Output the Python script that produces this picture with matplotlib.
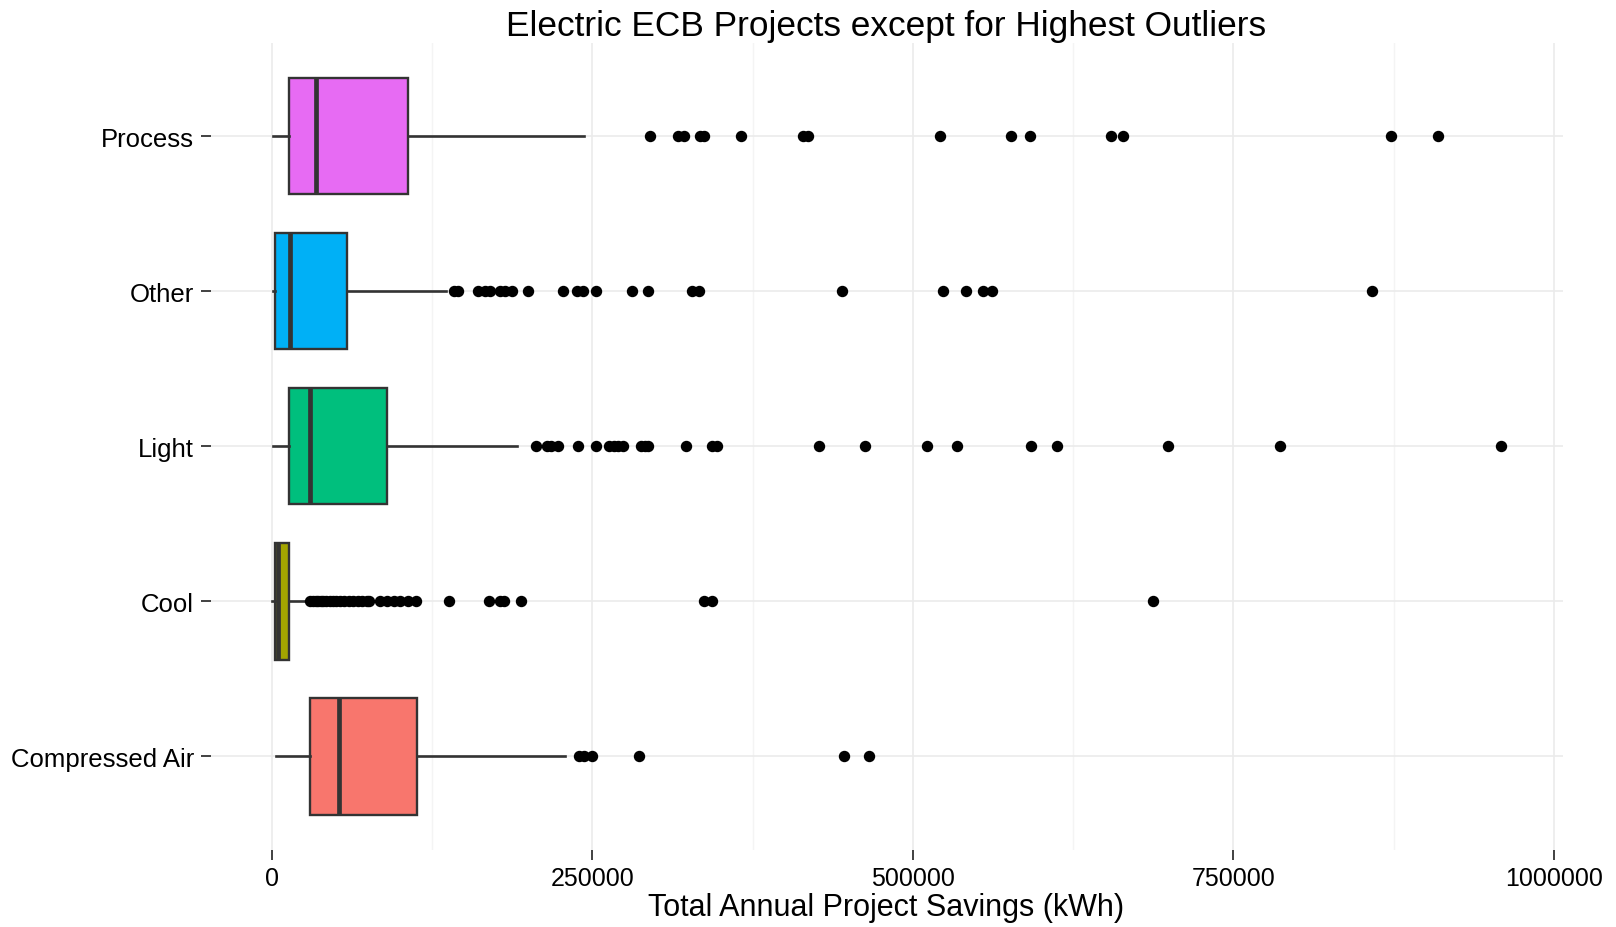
import numpy as np
import matplotlib.pyplot as plt
from matplotlib.ticker import FixedLocator

plt.rcParams['font.family'] = ['Liberation Sans', 'DejaVu Sans']

# Categories, bottom to top
categories = ["Compressed Air", "Cool", "Light", "Other", "Process"]
colors = ["#F8766D", "#A3A500", "#00BF7D", "#00B0F6", "#E76BF3"]

# Box summary stats (kWh)
whislo = [3500, 0, 500, 500, 800]
q1 = [29400, 2000, 13100, 2300, 13100]
med = [52100, 5000, 29800, 13900, 34600]
q3 = [113000, 13000, 89900, 58800, 106200]
whishi = [228800, 27300, 191300, 135600, 243100]

# Outliers
out_air = [239200, 243100, 249500, 286200, 446500, 466000]
out_cool = [30000, 32000, 34000, 36000, 38000, 40000, 42000, 45000, 48000,
            50000, 53000, 56000, 60000, 63000, 67000, 70000, 74000, 76000,
            84000, 90000, 95000, 100000, 106000, 112000, 138000, 169000,
            178000, 181000, 194000, 337000, 343000, 687000]
out_light = [205700, 214400, 217600, 223300, 238800, 252700, 263000, 267000,
             270000, 274000, 288000, 291000, 293000, 322700, 343400, 347400,
             427000, 462700, 510900, 534200, 592000, 612000, 699200, 786500,
             958700]
out_other = [142000, 145000, 161000, 166000, 170000, 178000, 182000, 187000,
             200000, 227000, 238000, 243000, 253000, 281000, 293000, 327800,
             333000, 444800, 523400, 541000, 555000, 562000, 858300]
out_process = [294800, 316400, 321100, 333800, 337000, 365800, 414200, 418100,
               520800, 576300, 591600, 654200, 663500, 872800, 909500]
outliers = [out_air, out_cool, out_light, out_other, out_process]

stats = []
for i in range(len(categories)):
    stats.append({
        "label": categories[i], "whislo": whislo[i], "q1": q1[i], "med": med[i],
        "q3": q3[i], "whishi": whishi[i], "fliers": outliers[i],
    })

fig = plt.figure(figsize=(16.16, 9.28), dpi=100)
ax = fig.add_axes([210.5 / 1616, 1 - 850.5 / 928, 1352 / 1616, 806.5 / 928])

edge = "#333333"
bp = ax.bxp(
    stats, positions=range(1, 6), widths=0.75, orientation="horizontal",
    patch_artist=True, showcaps=False,
    boxprops=dict(edgecolor=edge, linewidth=1.7),
    whiskerprops=dict(color=edge, linewidth=1.9),
    medianprops=dict(color=edge, linewidth=3.4),
    flierprops=dict(marker="o", markerfacecolor="black", markeredgecolor="black",
                    markersize=7.2, linestyle="none"),
)
for patch, c in zip(bp["boxes"], colors):
    patch.set_facecolor(c)

# Axis ranges with ggplot-like expansion
xmax_data = 958700
ax.set_xlim(-0.05 * xmax_data, 1.05 * xmax_data)
ax.set_ylim(0.4, 5.6)

xticks = [0, 250000, 500000, 750000, 1000000]
ax.set_xticks(xticks)
ax.set_xticklabels([str(t) for t in xticks])
ax.xaxis.set_minor_locator(FixedLocator([125000, 375000, 625000, 875000]))
ax.set_yticks(range(1, 6))
ax.set_yticklabels(categories)

ax.grid(which="major", color="#ebebeb", linewidth=1.2)
ax.grid(which="minor", axis="x", color="#f4f4f4", linewidth=1.0)
ax.set_axisbelow(True)
for s in ax.spines.values():
    s.set_visible(False)

ax.tick_params(axis="both", which="major", length=7, width=1.3, color="#333333",
               labelcolor="black", pad=5)
ax.tick_params(axis="x", which="major", labelsize=18)
ax.tick_params(axis="y", which="major", labelsize=18.5)
ax.tick_params(axis="x", which="minor", length=0)

ax.set_xlabel("Total Annual Project Savings (kWh)", fontsize=22, labelpad=1)
ax.set_title("Electric ECB Projects except for Highest Outliers", fontsize=25.4, pad=6)

fig.savefig("out.png", dpi=100)
